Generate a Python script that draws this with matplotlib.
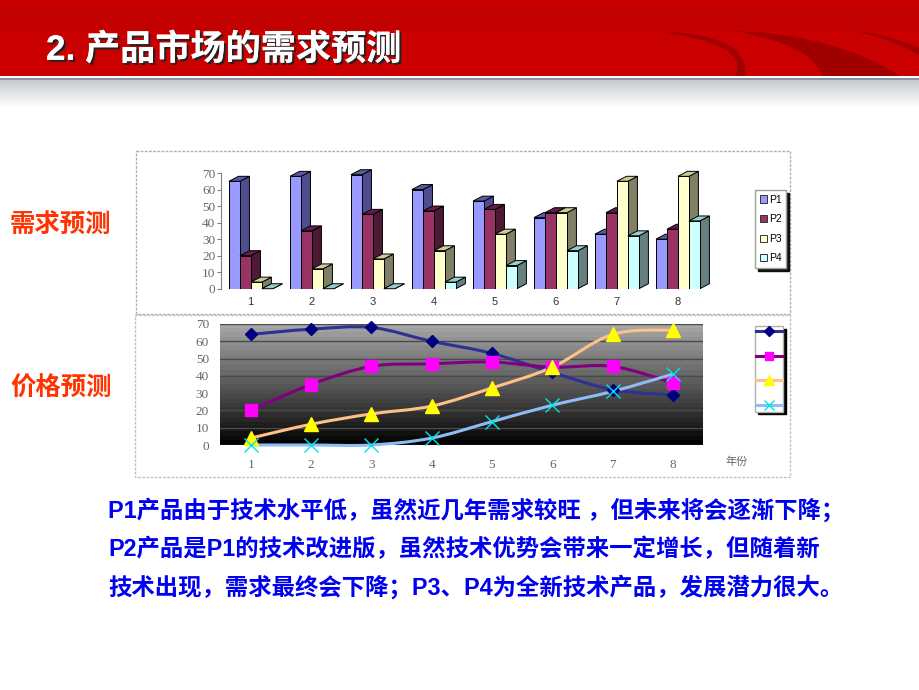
import numpy as np
import matplotlib
matplotlib.use("Agg")
import matplotlib.pyplot as plt
import matplotlib.patheffects as pe
from matplotlib.patches import Rectangle, Polygon, Patch, PathPatch
from matplotlib.path import Path
from matplotlib.lines import Line2D

CJK = ['Liberation Sans', 'Noto Sans CJK SC', 'DejaVu Sans']
plt.rcParams['font.family'] = CJK

# data
years = [1, 2, 3, 4, 5, 6, 7, 8]
names = ['P1', 'P2', 'P3', 'P4']

demand_p1 = [65, 68, 69, 60, 53, 43, 33, 30]
demand_p2 = [20, 35, 45, 47, 48, 46, 46, 36]
demand_p3 = [4, 12, 18, 23, 33, 46, 65, 68]
demand_p4 = [0, 0, 0, 4, 14, 23, 32, 41]

price_p1 = [64, 67, 68, 60, 53, 42, 32, 29]
price_p2 = [20, 35, 45.5, 47, 48, 45, 45.5, 36]
price_p3 = [4, 12, 18, 22.5, 33, 45, 64, 66.5]
price_p4 = [0, 0, 0, 4, 13.5, 23, 31, 41]

y_ticks = [0, 10, 20, 30, 40, 50, 60, 70]

title_text = '2. 产品市场的需求预测'
label_top = '需求预测'
label_bottom = '价格预测'
body_lines = ['P1产品由于技术水平低，虽然近几年需求较旺 ，但未来将会逐渐下降；',
              'P2产品是P1的技术改进版，虽然技术优势会带来一定增长，但随着新',
              '技术出现，需求最终会下降；P3、P4为全新技术产品，发展潜力很大。']

W, H = 920, 690
fig = plt.figure(figsize=(W / 100, H / 100), dpi=100, facecolor='white')


def px_axes(x0, y0, x1, y1, **kw):
    # axes placed by pixel box, y measured from the top
    return fig.add_axes([x0 / W, 1 - y1 / H, (x1 - x0) / W, (y1 - y0) / H], **kw)


# page decoration, in pixel coordinates
bg = px_axes(0, 0, W, H)
bg.set_xlim(0, W)
bg.set_ylim(H, 0)
bg.axis('off')
bg.add_patch(Rectangle((0, 0), W, 76, fc='#CA0000', ec='none'))
shade = np.linspace(0, 1, 28)[:, None, None] * np.array([55, 51, 47]) + np.array([200, 204, 208])
bg.imshow(shade.astype(np.uint8), extent=(0, W, 108, 80), aspect='auto', zorder=1)
bg.set_xlim(0, W)
bg.set_ylim(H, 0)
bg.add_patch(Rectangle((0, 78), W, 2, fc='#8A94A0', ec='none', zorder=2))

# darker swooshes on the right of the band
dark = '#A00000'
bg.add_patch(Rectangle((0, 6), W, 24, fc='#C20000', ec='none'))
swooshes = [
    [(660, 31), (720, 34), (748, 48), (745, 76), (735, 76), (745, 55), (725, 42), (660, 31)],
    [(735, 31), (800, 32), (860, 50), (900, 76), (822, 76), (815, 55), (790, 42), (735, 31)],
    [(850, 30), (880, 36), (905, 46), (920, 56), (920, 48), (895, 38), (870, 32), (850, 30)],
]
for s in swooshes:
    codes = [Path.MOVETO] + [Path.CURVE4] * 3 + [Path.LINETO] + [Path.CURVE4] * 3
    bg.add_patch(PathPatch(Path(s, codes), fc=dark, ec='none', zorder=1))

# frames around the two charts
bg.add_patch(Rectangle((136, 151), 654, 163, fc='white', ec='#A9B3A9', lw=1, ls=(0, (2, 1)), zorder=3))
bg.add_patch(Rectangle((135, 315), 655, 162, fc='white', ec='#B5C8B5', lw=1, ls=(0, (2, 1)), zorder=3))

bg.text(46, 50, title_text, color='white', fontsize=25.3, fontweight='bold', va='center', ha='left',
        path_effects=[pe.withSimplePatchShadow(offset=(1.5, -1.5), shadow_rgbFace='#222222', alpha=1), pe.Normal()],
        zorder=5)
bg.text(10, 233, label_top, color='#FF3300', fontsize=18.3, fontweight='bold', va='baseline', zorder=5)
bg.text(10, 396, label_bottom, color='#FF3300', fontsize=18.3, fontweight='bold', va='baseline', zorder=5)
for line, y in zip(body_lines, [518, 556, 595]):
    bg.text(108, y, line, color='#0000F0', fontsize=16.8, fontweight='bold', va='baseline', zorder=5)

# 3D looking bars
front = ['#9999FF', '#993366', '#FFFFCC', '#CCFFFF']
side = ['#4D4D8F', '#4D1A33', '#808066', '#668080']
top = ['#5A5AA8', '#661A4D', '#CCCC99', '#99CCCC']
demand = [demand_p1, demand_p2, demand_p3, demand_p4]

ax1 = px_axes(221, 173, 715, 288.7)
ax1.patch.set_alpha(0)
ax1.set_xlim(1 - 29.7 / 61, 1 + 464.3 / 61)
ax1.set_ylim(0, 70)
bar_w = 0.18
dx = 9.5 / 61
dy = 3.0
for i, vals in enumerate(demand):
    for yr, v in zip(years, vals):
        x0 = yr - 0.356 + i * bar_w
        x1 = x0 + bar_w
        z = 3 + i
        ax1.add_patch(Polygon([(x1, 0), (x1 + dx, dy), (x1 + dx, v + dy), (x1, v)],
                              fc=side[i], ec='black', lw=0.7, zorder=z, clip_on=False))
        ax1.add_patch(Polygon([(x0, v), (x0 + dx, v + dy), (x1 + dx, v + dy), (x1, v)],
                              fc=top[i], ec='black', lw=0.7, zorder=z, clip_on=False))
        ax1.bar(x0, v, width=bar_w, align='edge', color=front[i], edgecolor='black', lw=0.7, zorder=z)
for sp in ['top', 'right', 'bottom']:
    ax1.spines[sp].set_visible(False)
ax1.spines['left'].set_color('#808080')
ax1.set_yticks(y_ticks)
ax1.set_xticks(years)
ax1.tick_params(axis='y', length=3, color='#808080', pad=1)
ax1.tick_params(axis='x', length=0, pad=6)
for t in ax1.get_yticklabels():
    t.set(family='Liberation Serif', fontsize=9.5, color='#666666')
for t in ax1.get_xticklabels():
    t.set(fontsize=8, color='#333333')

ax1_handles = [Patch(fc=front[i], ec='#333333', lw=0.7, label=names[i]) for i in range(4)]
fig.legend(handles=ax1_handles, loc='upper left', bbox_to_anchor=(755 / W, 1 - 190 / H), borderaxespad=0,
           fontsize=7.5, handlelength=0.7, handleheight=0.7, handletextpad=0.2, labelspacing=0.92, borderpad=0.45,
           fancybox=False, framealpha=1, edgecolor='#9AA59A', shadow={'color': 'black', 'alpha': 0.9})


# line chart
def smooth_path(ax, xs, ys):
    # Bezier through the points, the way the spreadsheet smooths its lines
    pts = np.column_stack([xs, ys]).astype(float)
    verts = [pts[0]]
    codes = [Path.MOVETO]
    for i in range(len(pts) - 1):
        p0 = pts[max(i - 1, 0)]
        p1 = pts[i]
        p2 = pts[i + 1]
        p3 = pts[min(i + 2, len(pts) - 1)]
        verts += [p1 + (p2 - p0) / 6, p2 - (p3 - p1) / 6, p2]
        codes += [Path.CURVE4] * 3
    return Path(verts, codes)


ax2 = px_axes(220, 324, 703, 445)
ax2.set_xlim(1 - 30.7 / 60.3, 1 + 452.3 / 60.3)
ax2.set_ylim(0, 70)
levels = np.linspace(0, 0.62, 26) ** 0.9
ax2.imshow(levels[:, None], cmap='gray', vmin=0, vmax=1, origin='lower', aspect='auto', interpolation='nearest',
           extent=(*ax2.get_xlim(), 0, 70), zorder=0)
ax2.grid(axis='y', color='#4A4A4A', lw=1, zorder=1)
ax2.grid(axis='x', visible=False)

line_colors = ['#2E3192', '#800080', '#FFC08A', '#8FBCF5']
marker_colors = ['#000080', '#FF00FF', '#FFFF00', '#00E6E6']
markers = ['D', 's', '^', 'x']
sizes = [6.2, 8.6, 10, 9.5]
prices = [price_p1, price_p2, price_p3, price_p4]
for i, vals in enumerate(prices):
    ax2.add_patch(PathPatch(smooth_path(ax2, years, vals), fc='none', ec=line_colors[i], lw=2.2,
                            zorder=2 + i, clip_on=False))
for i, vals in enumerate(prices):
    ax2.plot(years, vals, ls='none', marker=markers[i], ms=sizes[i], color=marker_colors[i], mew=1,
             zorder=7 + i, clip_on=False)
for sp in ax2.spines.values():
    sp.set_visible(False)
ax2.set_yticks(y_ticks)
ax2.set_xticks(years)
ax2.tick_params(axis='both', length=0)
ax2.tick_params(axis='x', pad=10)
ax2.tick_params(axis='y', pad=8)
for t in ax2.get_yticklabels() + ax2.get_xticklabels():
    t.set(family='Liberation Serif', fontsize=9.5, color='#666666')
bg.text(737, 462, '年份', fontsize=8, color='#666666', ha='center', va='center', zorder=5,
        family=['Noto Sans CJK SC', 'DejaVu Sans'])

ax2_handles = [Line2D([], [], color=line_colors[i], lw=2.2, marker=markers[i], ms=sizes[i] * 0.75,
                      mfc=marker_colors[i], mec=marker_colors[i]) for i in range(4)]
fig.legend(handles=ax2_handles, labels=['', '', '', ''], loc='upper left', bbox_to_anchor=(755 / W, 1 - 326 / H),
           borderaxespad=0, fontsize=8, handlelength=2.3, handletextpad=0, labelspacing=1.3, borderpad=0.1,
           fancybox=False, framealpha=1, edgecolor='#B0B0B0', shadow={'color': 'black', 'alpha': 1})

fig.savefig('out.png', dpi=100)
